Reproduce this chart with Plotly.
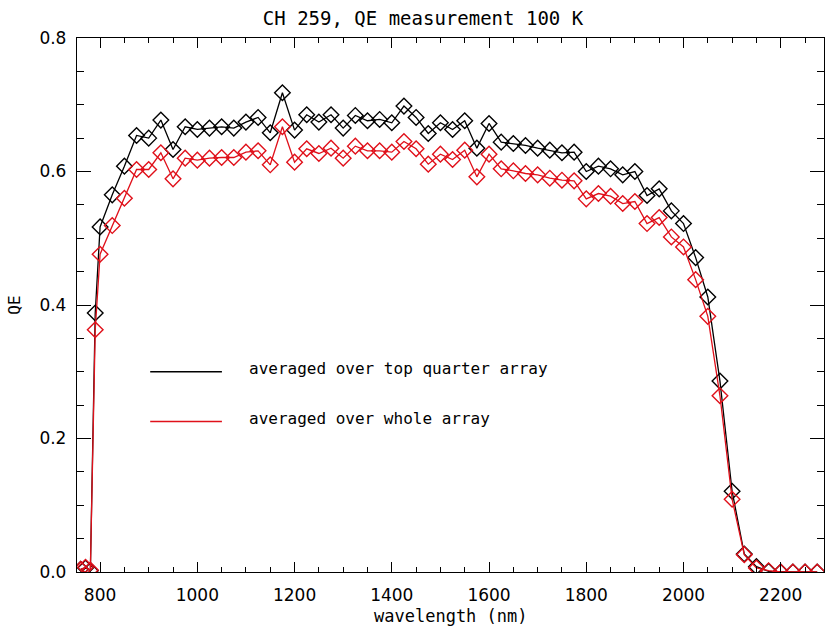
import plotly.graph_objects as go

wavelength = [760, 770, 780, 790, 800, 825, 850, 875, 900, 925, 950, 975,
              1000, 1025, 1050, 1075, 1100, 1125, 1150, 1175, 1200, 1225, 1250, 1275,
              1300, 1325, 1350, 1375, 1400, 1425, 1450, 1475, 1500, 1525, 1550, 1575,
              1600, 1625, 1650, 1675, 1700, 1725, 1750, 1775, 1800, 1825, 1850, 1875,
              1900, 1925, 1950, 1975, 2000, 2025, 2050, 2075, 2100, 2125, 2150, 2175,
              2200, 2225, 2250, 2275]

qe_top_quarter = [0.004, 0.006, 0.002, 0.388, 0.517, 0.565, 0.608, 0.654, 0.650, 0.677, 0.633, 0.667,
                  0.663, 0.665, 0.667, 0.665, 0.674, 0.681, 0.658, 0.718, 0.662, 0.685, 0.674, 0.685,
                  0.665, 0.684, 0.676, 0.678, 0.673, 0.698, 0.681, 0.657, 0.673, 0.663, 0.676, 0.635,
                  0.672, 0.644, 0.642, 0.639, 0.635, 0.632, 0.628, 0.629, 0.600, 0.608, 0.604, 0.595,
                  0.600, 0.564, 0.574, 0.541, 0.522, 0.471, 0.412, 0.286, 0.121, 0.027, 0.008, 0.001,
                  0.0, 0.0, 0.0, 0.0]

qe_whole = [0.004, 0.007, 0.003, 0.363, 0.476, 0.519, 0.560, 0.603, 0.603, 0.628, 0.589, 0.620,
            0.617, 0.620, 0.621, 0.621, 0.629, 0.631, 0.610, 0.667, 0.614, 0.634, 0.627, 0.635,
            0.620, 0.638, 0.631, 0.631, 0.629, 0.645, 0.634, 0.611, 0.626, 0.618, 0.632, 0.592,
            0.626, 0.604, 0.601, 0.597, 0.595, 0.590, 0.587, 0.586, 0.559, 0.567, 0.563, 0.552,
            0.555, 0.522, 0.531, 0.502, 0.487, 0.438, 0.383, 0.264, 0.109, 0.026, 0.006, 0.002,
            0.0, 0.0, 0.0, 0.0]

series_names = ["averaged over top quarter array", "averaged over whole array"]
series_colors = ["#000000", "#e0101a"]

x_ticks = [800, 1000, 1200, 1400, 1600, 1800, 2000, 2200]
y_ticks = [0.0, 0.2, 0.4, 0.6, 0.8]
y_tick_labels = ["0.0", "0.2", "0.4", "0.6", "0.8"]

FONT = "DejaVu Sans Mono"
TICKFONT = "DejaVu Sans"

fig = go.Figure()
for vals, name, col in zip([qe_top_quarter, qe_whole], series_names, series_colors):
    fig.add_trace(go.Scatter(
        x=wavelength, y=vals, mode="lines+markers", name=name,
        line=dict(color=col, width=1.3),
        marker=dict(symbol="diamond-open", size=12, color=col, line=dict(width=1.4, color=col)),
        showlegend=False,
    ))

axis_common = dict(
    showline=True, linecolor="black", linewidth=1.3, mirror="ticks",
    ticks="inside", tickcolor="black", tickwidth=1.3,
    showgrid=False, zeroline=False,
    tickfont=dict(family=TICKFONT, size=17, color="black"),
)

fig.update_xaxes(
    range=[752.5, 2289], tickvals=x_ticks, ticklen=10,
    minor=dict(dtick=50, ticks="inside", ticklen=5, tickcolor="black", tickwidth=1.3),
    ticklabelstandoff=7,
    **axis_common,
)
fig.update_yaxes(
    range=[0, 0.8], tickvals=y_ticks, ticktext=y_tick_labels, ticklen=14,
    minor=dict(dtick=0.05, ticks="inside", ticklen=7, tickcolor="black", tickwidth=1.3),
    title=dict(text="QE", font=dict(family=FONT, size=16, color="black"), standoff=14),
    ticklabelstandoff=6,
    **axis_common,
)

# x-axis title
fig.add_annotation(xref="paper", yref="paper", x=0.5007, y=-0.0817, xanchor="center",
                   yanchor="middle", text="wavelength (nm)", showarrow=False,
                   font=dict(family=FONT, size=17, color="black"))

# legend drawn as lines + text inside the plot
legend_y = [0.375, 0.282]
for name, col, ly in zip(series_names, series_colors, legend_y):
    fig.add_shape(type="line", xref="paper", yref="paper", x0=0.098, x1=0.194, y0=ly, y1=ly,
                  line=dict(color=col, width=1.5))
    fig.add_annotation(xref="paper", yref="paper", x=0.2276, y=ly + 0.006, xanchor="left",
                       yanchor="middle", text=name, showarrow=False,
                       font=dict(family=FONT, size=16, color="black"))

fig.update_layout(
    width=825, height=629,
    margin=dict(l=77, r=1, t=38, b=57),
    paper_bgcolor="white", plot_bgcolor="white",
    title=dict(text="CH 259, QE measurement 100 K", x=423 / 825, xanchor="center",
               y=1 - 18 / 629, yanchor="middle",
               font=dict(family=FONT, size=19, color="black")),
)
fig.update_layout(title_xref="container")

fig.write_html("out.html")
